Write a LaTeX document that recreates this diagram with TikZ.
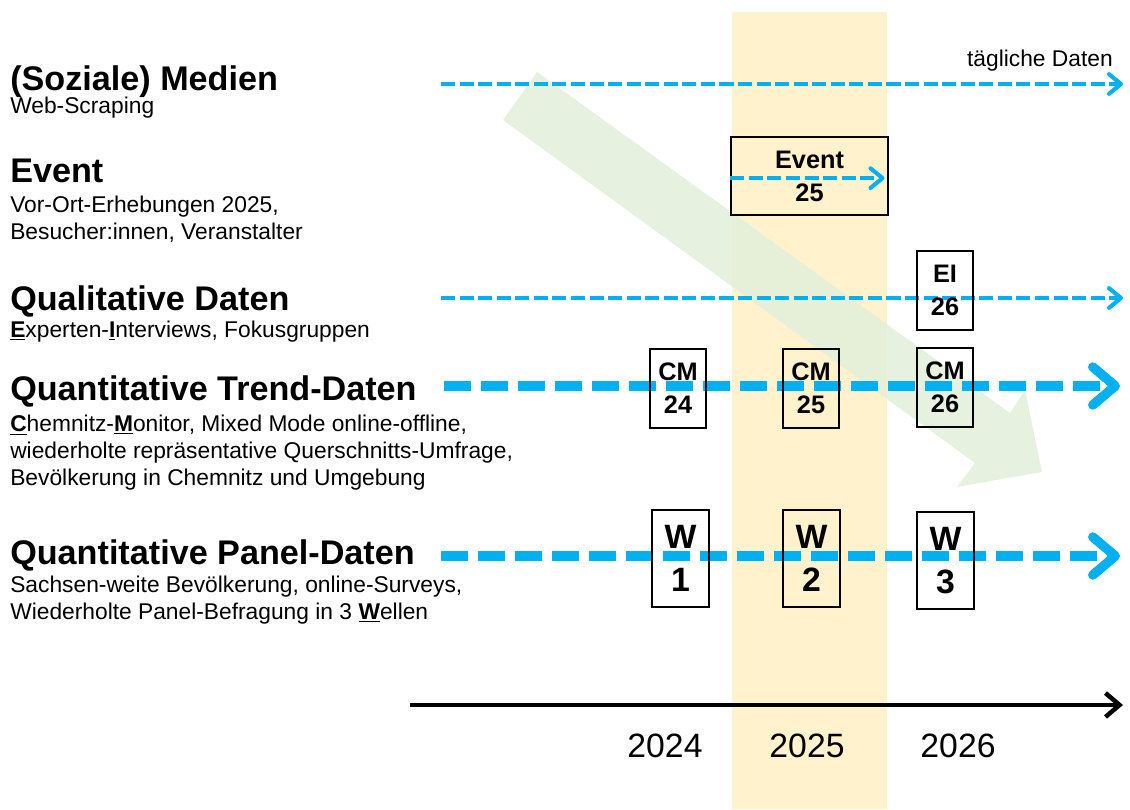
\documentclass[tikz,border=0pt]{standalone}
\usepackage{fontspec}
\setmainfont{Liberation Sans}
\usetikzlibrary{arrows.meta}
\definecolor{flowblue}{RGB}{0,176,240}
\definecolor{bandyellow}{RGB}{255,242,204}
\definecolor{trendgreen}{RGB}{226,239,218}
\tikzset{
    head/.style={anchor=base west, inner sep=0pt, font=\fontsize{24.3}{28}\selectfont\bfseries},
    sub/.style={anchor=north west, inner sep=0pt, align=left, font=\fontsize{16.2}{19.2}\selectfont},
    thinflow/.style={flowblue, line width=2.9pt, dash pattern=on 10pt off 3.2pt, -{Straight Barb[length=8.5pt,width=14pt,round]}},
    thickflow/.style={flowblue, line width=6.7pt, dash pattern=on 19.2pt off 7.1pt, -{Straight Barb[length=16pt,width=27pt,round]}},
    wavebox/.style={draw, line width=1pt, align=center, inner sep=0pt, font=\fontsize{18}{23.5}\selectfont\bfseries},
    yearlabel/.style={anchor=base, inner sep=0pt, font=\fontsize{24}{28}\selectfont}
}
\begin{document}
\begin{tikzpicture}[x=0.025cm, y=-0.025cm]
        \useasboundingbox (0,0) rectangle (1130,809);
        % 2025 band and trend arrow
        \fill[bandyellow] (732,12) rectangle (887,809);
        \fill[trendgreen, fill opacity=0.85] (537,72) -- (1010,413) -- (1025,390) -- (1042,472)
            -- (957,487) -- (975,463) -- (503,120) -- cycle;
        % row titles
        \node[head] (medien) at (10,90) {(Soziale) Medien};
        \node[sub] (medien-sub) at (10,97) {Web-Scraping};
        \node[head] (event) at (10,182) {Event};
        \node[sub] (event-sub) at (10,196) {Vor-Ort-Erhebungen 2025,\\Besucher:innen, Veranstalter};
        \node[head] (qual) at (10,310) {Qualitative Daten};
        \node[sub] (qual-sub) at (10,321) {\underline{\textbf{E}}xperten-\underline{\textbf{I}}nterviews, Fokusgruppen};
        \node[head] (trend) at (10,400) {Quantitative Trend-Daten};
        \node[sub] (trend-sub) at (10,415) {\underline{\textbf{C}}hemnitz-\underline{\textbf{M}}onitor, Mixed Mode online-offline,\\wiederholte repräsentative Querschnitts-Umfrage,\\Bevölkerung in Chemnitz und Umgebung};
        \node[head] (panel) at (10,564) {Quantitative Panel-Daten};
        \node[sub] (panel-sub) at (10,576) {Sachsen-weite Bevölkerung, online-Surveys,\\Wiederholte Panel-Befragung in 3 \underline{\textbf{W}}ellen};
        \node[sub, anchor=base east] (daily) at (1113,66) {tägliche Daten};
        % flow lines
        \coordinate (med-a) at (441,84);
        \coordinate (med-b) at (1123,84);
        \coordinate (qual-a) at (441,298);
        \coordinate (qual-b) at (1123,298);
        \coordinate (trend-a) at (444,386);
        \coordinate (trend-b) at (1120,386);
        \coordinate (panel-a) at (441,556);
        \coordinate (panel-b) at (1120,556);
        \coordinate (axis-a) at (410,705);
        \coordinate (axis-b) at (1123,705);
        \draw[thinflow] (med-a) -- (med-b);
        \draw[thinflow] (qual-a) -- (qual-b);
        \draw[thickflow] (trend-a) -- (trend-b);
        \draw[thickflow] (panel-a) -- (panel-b);
        % survey boxes
        \node[wavebox, minimum width=3.925cm, minimum height=1.95cm] (ev25) at (809.5,176) {Event\\25};
        \draw[thinflow] ([yshift=-1.5pt]ev25.west) -- ([xshift=-3pt,yshift=-1.5pt]ev25.east);
        \node[wavebox, minimum width=1.4cm, minimum height=1.975cm] (ei26) at (945,290.5) {EI\\26};
        \node[wavebox, minimum width=1.4cm, minimum height=1.975cm] (cm24) at (678,388.5) {CM\\24};
        \node[wavebox, minimum width=1.4cm, minimum height=1.975cm] (cm25) at (811,388.5) {CM\\25};
        \node[wavebox, minimum width=1.4cm, minimum height=1.975cm] (cm26) at (945,387.5) {CM\\26};
        \node[wavebox, minimum width=1.425cm, minimum height=2.425cm, font=\fontsize{24}{30.6}\selectfont\bfseries] (w1) at (680.5,558.5) {W\\1};
        \node[wavebox, minimum width=1.425cm, minimum height=2.425cm, font=\fontsize{24}{30.6}\selectfont\bfseries] (w2) at (811.5,558.5) {W\\2};
        \node[wavebox, minimum width=1.425cm, minimum height=2.425cm, font=\fontsize{24}{30.6}\selectfont\bfseries] (w3) at (945.5,560.5) {W\\3};
        % time axis
        \draw[line width=3.2pt, -{Straight Barb[length=10pt,width=17pt]}] (axis-a) -- (axis-b);
        \node[yearlabel] (y2024) at (665,757) {2024};
        \node[yearlabel] (y2025) at (807,757) {2025};
        \node[yearlabel] (y2026) at (958,757) {2026};
\end{tikzpicture}
\end{document}
